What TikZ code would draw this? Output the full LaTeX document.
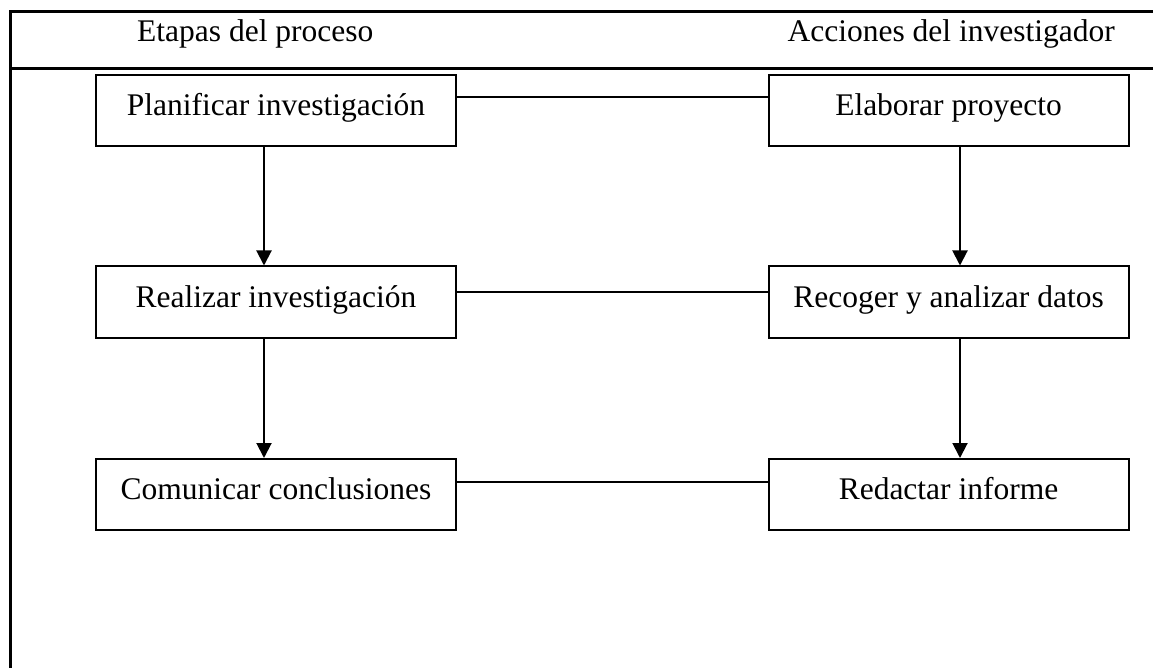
\documentclass[tikz,border=0pt]{standalone}
\usepackage{fontspec}
\setmainfont{Liberation Serif}
\usetikzlibrary{arrows.meta}
\begin{document}
\begin{tikzpicture}[x=1pt,y=-1pt,
  stage/.style={draw,line width=2pt,minimum width=360pt,minimum height=71pt,
    inner sep=0pt,text height=21pt,text depth=11pt,font=\fontsize{31.5}{37}\selectfont},
  link/.style={line width=2pt},
  flow/.style={line width=2pt,-{Triangle[length=15pt,width=15pt]}},
  frame/.style={line width=3pt},
  head/.style={font=\fontsize{31.5}{37}\selectfont,inner sep=0pt}]
  \useasboundingbox (0,0) rectangle (1153,668);

  % table frame and header
  \coordinate (tl) at (10,12);
  \coordinate (tr) at (1153,12);
  \coordinate (hl) at (10,69);
  \coordinate (hr) at (1153,69);
  \coordinate (bl) at (10,668);
  \draw[frame] (tr) -- (tl) -- (bl);
  \draw[frame] (hl) -- (hr);
  \node[head,anchor=base west] (h1) at (137,42) {Etapas del proceso};
  \node[head,anchor=base east] (h2) at (1115,42) {Acciones del investigador};

  % process stages
  \node[stage] (L1) at (276,110.5) {Planificar investigación};
  \node[stage] (L2) at (276,302) {Realizar investigación};
  \node[stage] (L3) at (276,494.5) {Comunicar conclusiones};

  % researcher actions
  \node[stage] (R1) at (948.5,110.5) {Elaborar proyecto};
  \node[stage] (R2) at (948.5,302) {Recoger y analizar datos};
  \node[stage] (R3) at (948.5,494.5) {Redactar informe};

  % links between columns
  \draw[link] ([yshift=-23pt]L1.north east) -- ([yshift=-23pt]R1.north west);
  \draw[link] ([yshift=-26pt]L2.north east) -- ([yshift=-26pt]R2.north west);
  \draw[link] ([yshift=-24pt]L3.north east) -- ([yshift=-24pt]R3.north west);

  % sequence arrows
  \draw[flow] ([xshift=-12pt]L1.south) -- ([xshift=-12pt]L2.north);
  \draw[flow] ([xshift=-12pt]L2.south) -- ([xshift=-12pt]L3.north);
  \draw[flow] ([xshift=11.5pt]R1.south) -- ([xshift=11.5pt]R2.north);
  \draw[flow] ([xshift=11.5pt]R2.south) -- ([xshift=11.5pt]R3.north);
\end{tikzpicture}
\end{document}
